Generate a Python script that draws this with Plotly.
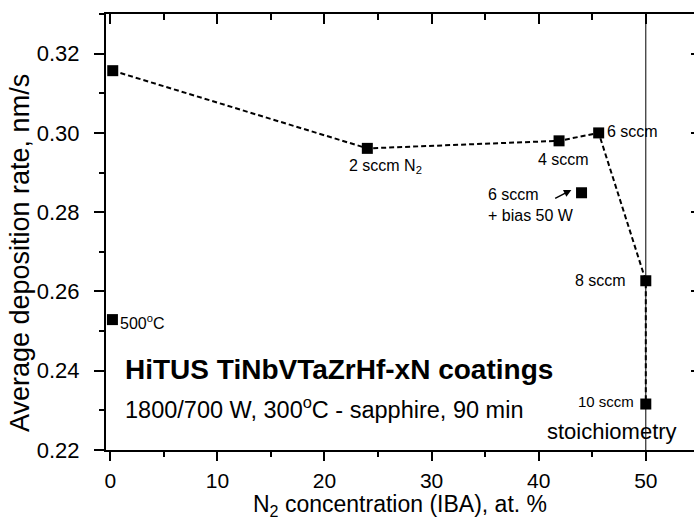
import plotly.graph_objects as go

# ---- data ----
n2_conc = [0.23, 24.0, 41.9, 45.6, 50.0, 50.0]
dep_rate = [0.3157, 0.2961, 0.2980, 0.3000, 0.2627, 0.2316]
labels_main = ["", "2 sccm N<sub>2</sub>", "4 sccm", "6 sccm", "8 sccm", "10 sccm"]

hot_x = [0.2]
hot_y = [0.2529]
hot_label = "500<sup>o</sup>C"

bias_x = [44.0]
bias_y = [0.2849]
bias_label = "6 sccm<br>+ bias 50 W"

stoich_x = 50.0

x_ticks = [0, 10, 20, 30, 40, 50]
y_ticks = [0.22, 0.24, 0.26, 0.28, 0.30, 0.32]
x_range = [-0.4, 54.5]
y_range = [0.22, 0.33]

FONT = "Liberation Sans, Arial, sans-serif"
BLACK = "#000000"

fig = go.Figure()

# dashed connecting line with square markers
fig.add_trace(go.Scatter(
    x=n2_conc, y=dep_rate, mode="lines+markers",
    line=dict(color=BLACK, width=2, dash="5px,3px"),
    marker=dict(symbol="square", size=11, color=BLACK),
    showlegend=False, hoverinfo="skip"))

fig.add_trace(go.Scatter(
    x=hot_x + bias_x, y=hot_y + bias_y, mode="markers",
    marker=dict(symbol="square", size=11, color=BLACK),
    showlegend=False, hoverinfo="skip"))

# invisible traces for mirrored axes
fig.add_trace(go.Scatter(x=x_range, y=y_range, xaxis="x2", yaxis="y2",
                         mode="markers", marker=dict(opacity=0),
                         showlegend=False, hoverinfo="skip"))

# stoichiometry vertical line
fig.add_shape(type="line", xref="x", yref="paper", x0=stoich_x, x1=stoich_x,
              y0=0, y1=1, line=dict(color=BLACK, width=1))

ann = []
small = dict(family=FONT, size=16, color=BLACK)
ann.append(dict(x=hot_x[0] + 0.55, y=hot_y[0] - 0.0005, text=hot_label,
                xanchor="left", yanchor="middle", font=small))
ann.append(dict(x=n2_conc[1] + 1.7, y=dep_rate[1] - 0.0045, text=labels_main[1],
                xanchor="center", yanchor="middle", font=small))
ann.append(dict(x=n2_conc[2] + 0.4, y=dep_rate[2] - 0.0046, text=labels_main[2],
                xanchor="center", yanchor="middle", font=small))
ann.append(dict(x=n2_conc[3] + 0.6, y=dep_rate[3] + 0.0003, text=labels_main[3],
                xanchor="left", yanchor="middle", font=small))
ann.append(dict(x=n2_conc[4] - 1.7, y=dep_rate[4] + 0.0001, text=labels_main[4],
                xanchor="right", yanchor="middle", font=small))
ann.append(dict(x=n2_conc[5] - 0.9, y=dep_rate[5] + 0.0006, text=labels_main[5],
                xanchor="right", yanchor="middle", font=dict(family=FONT, size=15, color=BLACK)))
ann.append(dict(x=bias_x[0] - 8.9, y=bias_y[0] - 0.0032, text=bias_label,
                xanchor="left", yanchor="middle", align="left", font=small))
# arrow pointing to bias point
ann.append(dict(x=bias_x[0] - 0.95, y=bias_y[0] + 0.0007, ax=bias_x[0] - 2.6, ay=bias_y[0] - 0.0016,
                axref="x", ayref="y", text="", showarrow=True,
                arrowhead=2, arrowsize=1, arrowwidth=1.5, arrowcolor=BLACK))
ann.append(dict(x=stoich_x + 3.1, y=0.2247, text="stoichiometry",
                xanchor="right", yanchor="middle",
                font=dict(family=FONT, size=22, color=BLACK)))
ann.append(dict(x=1.2, y=0.2403, text="<b>HiTUS TiNbVTaZrHf-xN coatings</b>",
                xanchor="left", yanchor="middle",
                font=dict(family=FONT, size=28, color=BLACK)))
ann.append(dict(x=1.2, y=0.2306, text="1800/700 W, 300<sup>o</sup>C - sapphire, 90 min",
                xanchor="left", yanchor="middle",
                font=dict(family=FONT, size=23.5, color=BLACK)))
# y-axis title (placed as in the reference, slightly below the plot centre)
ann.append(dict(xref="paper", yref="paper", x=-0.146, y=0.452,
                text="Average deposition rate, nm/s", textangle=-90,
                xanchor="center", yanchor="middle",
                font=dict(family=FONT, size=27, color=BLACK)))
for a in ann:
    a.setdefault("showarrow", False)
    a.setdefault("xref", "x")
    a.setdefault("yref", "y")

fig.update_layout(
    width=694, height=520,
    margin=dict(l=106, r=0, t=14, b=70, pad=0),
    paper_bgcolor="white", plot_bgcolor="white",
    font=dict(family=FONT, color=BLACK),
    annotations=ann,
    xaxis=dict(range=x_range, tickvals=x_ticks, ticks="outside", ticklen=9, tickwidth=2,
               showline=True, linewidth=2, linecolor=BLACK, showgrid=False, zeroline=False,
               minor=dict(dtick=5, tick0=0, ticks="outside", ticklen=5, tickwidth=2, tickcolor=BLACK),
               tickcolor=BLACK, tickfont=dict(size=21, family=FONT), ticklabelstandoff=2,
               title=dict(text="N<sub>2</sub> concentration (IBA), at. %",
                          font=dict(size=23, family=FONT), standoff=4)),
    yaxis=dict(range=y_range, tickvals=y_ticks, tickformat=".2f", ticks="outside", ticklen=10,
               tickwidth=2, showline=True, linewidth=2, linecolor=BLACK, showgrid=False,
               zeroline=False, tickcolor=BLACK, ticklabelstandoff=10,
               minor=dict(dtick=0.01, tick0=0.22, ticks="outside", ticklen=5, tickwidth=2, tickcolor=BLACK),
               tickfont=dict(size=22, family=FONT)),
    xaxis2=dict(range=x_range, overlaying="x", side="top", anchor="y", tickvals=x_ticks,
                ticks="inside", ticklen=10, tickwidth=2, tickcolor=BLACK,
                showticklabels=False, showline=True, linewidth=2, linecolor=BLACK,
                showgrid=False, zeroline=False,
                minor=dict(dtick=5, tick0=0, ticks="inside", ticklen=6, tickwidth=2, tickcolor=BLACK)),
    yaxis2=dict(range=y_range, overlaying="y", side="right", anchor="x", tickvals=y_ticks,
                ticks="inside", ticklen=3, tickwidth=2, tickcolor=BLACK,
                showticklabels=False, showline=False, showgrid=False, zeroline=False),
)

fig.write_html("out.html")
